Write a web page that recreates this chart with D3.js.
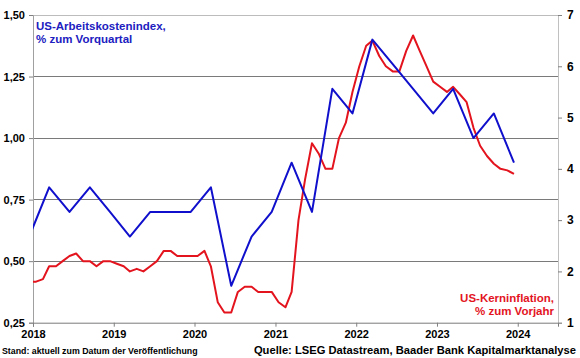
<!DOCTYPE html>
<html><head><meta charset="utf-8">
<script src="https://cdn.jsdelivr.net/npm/d3@7"></script>
<style>
html,body{margin:0;padding:0;background:#fff;}
svg{display:block;font-family:Arial,"Liberation Sans",sans-serif;}
</style></head>
<body><svg id="c" width="580" height="358"></svg>
<script>
// ---- data ----
// Core CPI (US-Kerninflation, % yoy), monthly Dec 2017 .. Dec 2023
const cpiStart = [2017, 11]; // Dec 2017
const cpiValues = [
  1.8,
  1.8, 1.85, 2.1, 2.1, 2.2, 2.3, 2.35, 2.2, 2.2, 2.1, 2.2, 2.2,
  2.15, 2.1, 2.0, 2.05, 2.0, 2.1, 2.2, 2.4, 2.4, 2.3, 2.3, 2.3,
  2.3, 2.4, 2.1, 1.4, 1.2, 1.2, 1.6, 1.7, 1.7, 1.6, 1.6, 1.6,
  1.4, 1.3, 1.6, 3.0, 3.8, 4.5, 4.3, 4.0, 4.0, 4.6, 4.9, 5.5,
  6.0, 6.4, 6.5, 6.2, 6.0, 5.9, 5.9, 6.3, 6.6, 6.3, 6.0, 5.7,
  5.6, 5.5, 5.6, 5.45, 5.3, 4.8, 4.45, 4.25, 4.1, 4.0, 3.97, 3.9
];
// Employment cost index (US-Arbeitskostenindex, % qoq), quarterly Q4 2017 .. Q4 2023
const eciStart = [2017, 11]; // Q4 2017 (Dec)
const eciValues = [
  0.6,
  0.8, 0.7, 0.8, 0.7,
  0.6, 0.7, 0.7, 0.7,
  0.8, 0.4, 0.6, 0.7,
  0.9, 0.7, 1.2, 1.1,
  1.4, 1.3, 1.2, 1.1,
  1.2, 1.0, 1.1, 0.9
];
const leftTicks = [0.25, 0.5, 0.75, 1.0, 1.25, 1.5];
const rightTicks = [1, 2, 3, 4, 5, 6, 7];
const yearTicks = [2018, 2019, 2020, 2021, 2022, 2023, 2024];
const labelEci = ["US-Arbeitskostenindex,", "% zum Vorquartal"];
const labelCpi = ["US-Kerninflation,", "% zum Vorjahr"];
const footLeft = "Stand: aktuell zum Datum der Veröffentlichung";
const footRight = "Quelle: LSEG Datastream, Baader Bank Kapitalmarktanalyse";

// ---- build series ----
const cpiData = cpiValues.map((v, i) => ({d: new Date(cpiStart[0], cpiStart[1] + i, 15), v}));
const eciData = eciValues.map((v, i) => ({d: new Date(eciStart[0], eciStart[1] + 3 * i, 15), v}));

const L = 33, R = 558, T = 15, B = 322.7;
const svg = d3.select("#c");
const x = d3.scaleTime().domain([new Date(2018, 0, 1), new Date(2024, 6, 1)]).range([L, R]);
const yL = d3.scaleLinear().domain([0.25, 1.5]).range([B, T]);
const yR = d3.scaleLinear().domain([1, 7]).range([B, T]);
const de = d3.formatLocale({decimal: ",", thousands: ".", grouping: [3], currency: ["", "€"]});
const fmt = de.format(".2f");

// gridlines
svg.append("g").selectAll("line").data(leftTicks.slice(1, -1)).join("line")
  .attr("x1", L).attr("x2", R).attr("y1", d => yL(d)).attr("y2", d => yL(d))
  .attr("stroke", "#7a7a7a").attr("stroke-width", 1).attr("shape-rendering", "crispEdges");
// top border
svg.append("line").attr("x1", L).attr("x2", R).attr("y1", yL(1.5)).attr("y2", yL(1.5))
  .attr("stroke", "#bcbcbc").attr("shape-rendering", "crispEdges");

// left axis
const gL = svg.append("g").attr("transform", `translate(${L},0)`)
  .call(d3.axisLeft(yL).tickValues(leftTicks).tickFormat(fmt).tickSize(4).tickPadding(4));
gL.select(".domain").attr("stroke", "#a0a0a0");
gL.selectAll(".tick line").attr("stroke", "#808080");
gL.selectAll("text").attr("font-size", 11).attr("font-weight", "bold").attr("fill", "#000")
  .attr("font-family", "Arial,'Liberation Sans',sans-serif");

// right axis
const gR = svg.append("g").attr("transform", `translate(${R},0)`)
  .call(d3.axisRight(yR).tickValues(rightTicks).tickFormat(d3.format("d")).tickSize(4).tickPadding(5));
gR.select(".domain").attr("stroke", "#c0c0c0");
gR.selectAll(".tick line").attr("stroke", "#808080");
gR.selectAll("text").attr("font-size", 12).attr("font-weight", "bold").attr("fill", "#000")
  .attr("font-family", "Arial,'Liberation Sans',sans-serif");

// bottom axis
const gB = svg.append("g").attr("transform", `translate(0,${B})`)
  .call(d3.axisBottom(x).tickValues(yearTicks.map(y => new Date(y, 0, 1))).tickFormat(d3.timeFormat("%Y")).tickSize(4).tickPadding(4));
gB.select(".domain").attr("stroke", "#7a7a7a");
gB.selectAll(".tick line").attr("stroke", "#808080");
gB.selectAll("text").attr("font-size", 11).attr("font-weight", "bold").attr("fill", "#000")
  .attr("font-family", "Arial,'Liberation Sans',sans-serif");

// clip
svg.append("clipPath").attr("id", "clip").append("rect")
  .attr("x", L).attr("y", 0).attr("width", R - L).attr("height", 358);

const lineCpi = d3.line().x(d => x(d.d)).y(d => yR(d.v));
const lineEci = d3.line().x(d => x(d.d)).y(d => yL(d.v));

svg.append("path").datum(cpiData).attr("clip-path", "url(#clip)")
  .attr("d", lineCpi).attr("fill", "none").attr("stroke", "#e3141e").attr("stroke-width", 2)
  .attr("stroke-linejoin", "round");
svg.append("path").datum(eciData).attr("clip-path", "url(#clip)")
  .attr("d", lineEci).attr("fill", "none").attr("stroke", "#1010cc").attr("stroke-width", 2)
  .attr("stroke-linejoin", "round");

// labels
svg.append("text").attr("x", 36).attr("y", 30).attr("font-size", 11.5).attr("font-weight", "bold")
  .attr("fill", "#2020c0")
  .selectAll("tspan").data(labelEci).join("tspan")
  .attr("x", 36).attr("dy", (d, i) => i ? 13 : 0).text(d => d);
svg.append("text").attr("x", 554).attr("y", 302).attr("font-size", 11.5).attr("font-weight", "bold")
  .attr("fill", "#e3141e").attr("text-anchor", "end")
  .selectAll("tspan").data(labelCpi).join("tspan")
  .attr("x", 554).attr("dy", (d, i) => i ? 13 : 0).text(d => d);

// footers
svg.append("text").attr("x", 2).attr("y", 353.5).attr("font-size", 8.8).attr("font-weight", "bold")
  .attr("fill", "#000").text(footLeft);
svg.append("text").attr("x", 576).attr("y", 353.5).attr("font-size", 11.2).attr("font-weight", "bold")
  .attr("fill", "#000").attr("text-anchor", "end").text(footRight);
</script>
</body></html>
